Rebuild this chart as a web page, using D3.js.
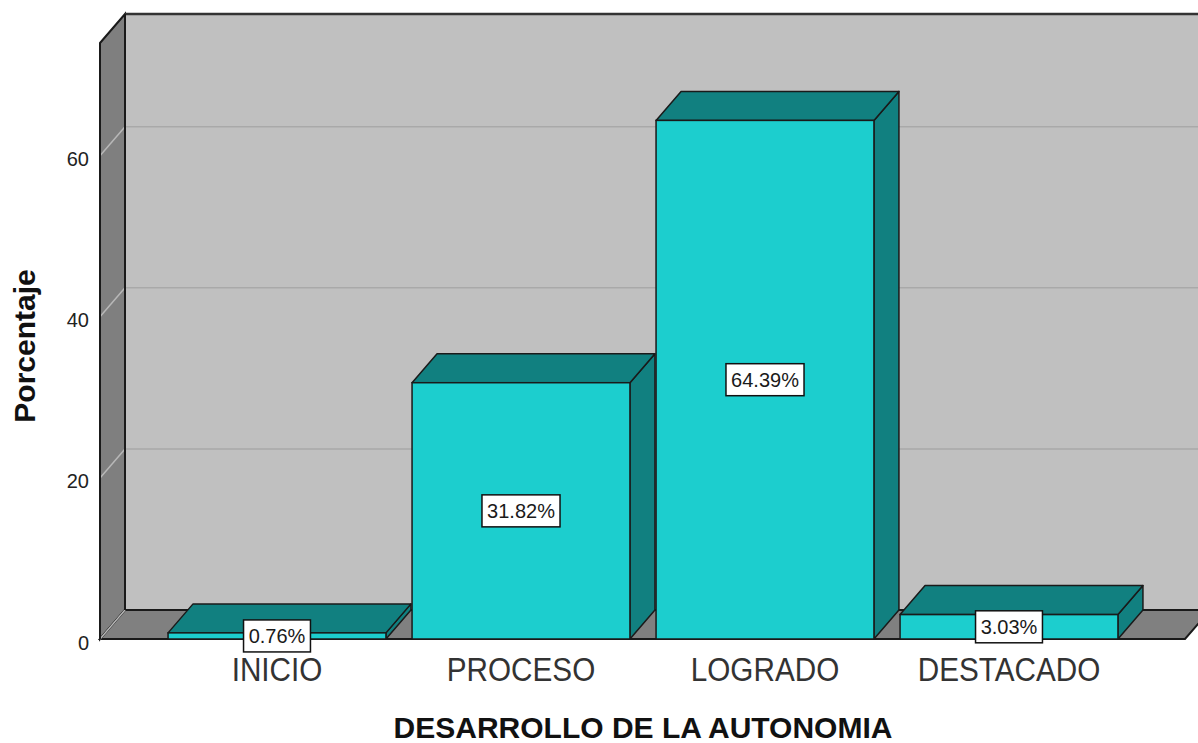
<!DOCTYPE html>
<html>
<head>
<meta charset="utf-8">
<script src="https://cdn.jsdelivr.net/npm/d3@7"></script>
<style>
  html, body { margin: 0; padding: 0; background: #ffffff; }
  svg { display: block; font-family: "Liberation Sans", Arial, sans-serif; }
</style>
</head>
<body>
<svg id="chart" width="1198" height="743"></svg>
<script>
// ---- data ----
const categories = ["INICIO", "PROCESO", "LOGRADO", "DESTACADO"];
const values = [0.76, 31.82, 64.39, 3.03];
const valueLabels = ["0.76%", "31.82%", "64.39%", "3.03%"];
const yTicks = [0, 20, 40, 60];
const xTitle = "DESARROLLO DE LA AUTONOMIA";
const yTitle = "Porcentaje";

// ---- layout ----
const W = 1198, H = 743;
const DX = 25, DY = -29;          // 3D depth offset
const left = 100, floorRight = 1185;
const yMax = 74;

const svg = d3.select("#chart");

const x = d3.scaleBand()
  .domain(categories)
  .range([155, 1131])
  .paddingInner(0.107)
  .paddingOuter(0.0535);

const y = d3.scaleLinear().domain([0, yMax]).range([639, 43]);

const wallFill = "#c0c0c0", sideFill = "#7f7f7f", floorFill = "#808080";
const edge = "#1a1a1a";

const g = svg.append("g");

// back wall
g.append("rect")
  .attr("x", left + DX).attr("y", y(yMax) + DY)
  .attr("width", floorRight + DX - (left + DX) + 30)
  .attr("height", y(0) - y(yMax))
  .attr("fill", wallFill);

// back wall gridlines
g.selectAll(".gridB").data(yTicks.filter(t => t > 0)).enter().append("line")
  .attr("x1", left + DX).attr("x2", floorRight + DX + 30)
  .attr("y1", d => y(d) + DY).attr("y2", d => y(d) + DY)
  .attr("stroke", "#a9a9a9").attr("stroke-width", 1.5);

// left wall
g.append("polygon")
  .attr("points", [
    [left, y(yMax)], [left + DX, y(yMax) + DY],
    [left + DX, y(0) + DY], [left, y(0)]
  ].map(p => p.join(",")).join(" "))
  .attr("fill", sideFill).attr("stroke", edge).attr("stroke-width", 2);

// floor
g.append("polygon")
  .attr("points", [
    [left, y(0)], [left + DX, y(0) + DY],
    [floorRight + DX, y(0) + DY], [floorRight, y(0)]
  ].map(p => p.join(",")).join(" "))
  .attr("fill", floorFill).attr("stroke", edge).attr("stroke-width", 2);

// left wall diagonal gridlines
g.selectAll(".gridL").data(yTicks).enter().append("line")
  .attr("x1", left).attr("x2", left + DX)
  .attr("y1", d => y(d)).attr("y2", d => y(d) + DY)
  .attr("stroke", "#b8b8b8").attr("stroke-width", 1.5);

// back wall top edge and inner vertical edge
g.append("line")
  .attr("x1", left + DX).attr("x2", W + 10)
  .attr("y1", y(yMax) + DY).attr("y2", y(yMax) + DY)
  .attr("stroke", "#333").attr("stroke-width", 2.5);
g.append("line")
  .attr("x1", left + DX).attr("x2", left + DX)
  .attr("y1", y(yMax) + DY).attr("y2", y(0) + DY)
  .attr("stroke", edge).attr("stroke-width", 2);
g.append("line")
  .attr("x1", left).attr("x2", left)
  .attr("y1", y(yMax)).attr("y2", y(0))
  .attr("stroke", edge).attr("stroke-width", 2);

// ---- bars ----
const frontFill = "#1ccece", darkFill = "#118080";
const bw = x.bandwidth();
const bars = g.selectAll(".bar").data(categories.map((c, i) => ({c, v: values[i], lab: valueLabels[i]})))
  .enter().append("g").attr("class", "bar");

bars.append("polygon") // side
  .attr("points", d => {
    const x1 = x(d.c) + bw, yt = y(d.v), yb = y(0);
    return [[x1, yt], [x1 + DX, yt + DY], [x1 + DX, yb + DY], [x1, yb]].map(p => p.join(",")).join(" ");
  })
  .attr("fill", darkFill).attr("stroke", edge).attr("stroke-width", 1.5).attr("stroke-linejoin", "round");

bars.append("polygon") // top
  .attr("points", d => {
    const x0 = x(d.c), x1 = x0 + bw, yt = y(d.v);
    return [[x0, yt], [x0 + DX, yt + DY], [x1 + DX, yt + DY], [x1, yt]].map(p => p.join(",")).join(" ");
  })
  .attr("fill", darkFill).attr("stroke", edge).attr("stroke-width", 1.5).attr("stroke-linejoin", "round");

bars.append("rect") // front
  .attr("x", d => x(d.c)).attr("y", d => y(d.v))
  .attr("width", bw).attr("height", d => y(0) - y(d.v))
  .attr("fill", frontFill).attr("stroke", edge).attr("stroke-width", 1.5);

// value labels
const labG = bars.append("g")
  .attr("transform", d => `translate(${x(d.c) + bw / 2},${(y(d.v) + y(0)) / 2})`);
const labRect = labG.append("rect").attr("fill", "#ffffff").attr("stroke", "#111").attr("stroke-width", 1.5);
const labText = labG.append("text")
  .attr("text-anchor", "middle").attr("dy", "0.35em")
  .attr("font-size", 20).attr("fill", "#1a1a1a")
  .text(d => d.lab);
labText.each(function () {
  const bb = this.getBBox();
  d3.select(this.parentNode).select("rect")
    .attr("x", -bb.width / 2 - 5).attr("y", -16)
    .attr("width", bb.width + 10).attr("height", 32);
});

// ---- axes ----
const yAxis = svg.append("g")
  .attr("transform", `translate(${left},0)`)
  .call(d3.axisLeft(y).tickValues(yTicks).tickSize(0).tickPadding(11).tickFormat(d3.format("d")));
yAxis.select(".domain").remove();
yAxis.selectAll("text")
  .attr("font-size", 20).attr("font-family", "Liberation Sans, Arial, sans-serif")
  .attr("fill", "#222").attr("dy", "0.5em");

const xAxis = svg.append("g")
  .attr("transform", `translate(0,${y(0)})`)
  .call(d3.axisBottom(x).tickSize(0));
xAxis.select(".domain").remove();
xAxis.selectAll("text")
  .attr("font-size", 33).attr("font-family", "Liberation Sans, Arial, sans-serif")
  .attr("fill", "#333").attr("y", 42).attr("dy", 0)
  .attr("transform", "scale(0.9,1)");

// titles
svg.append("text")
  .attr("x", 643).attr("y", 738)
  .attr("text-anchor", "middle")
  .attr("font-size", 30).attr("font-weight", "bold").attr("fill", "#111")
  .text(xTitle);

svg.append("text")
  .attr("transform", "translate(35,346) rotate(-90)")
  .attr("text-anchor", "middle")
  .attr("font-size", 30).attr("font-weight", "bold").attr("fill", "#111")
  .text(yTitle);
</script>
</body>
</html>
